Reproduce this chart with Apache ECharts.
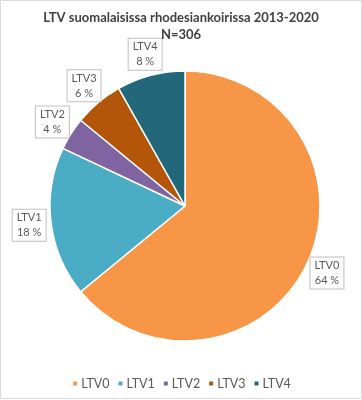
<!DOCTYPE html>
<html><head><meta charset="utf-8">
<script src="https://cdn.jsdelivr.net/npm/echarts@6/dist/echarts.min.js"></script>
<style>html,body{margin:0;padding:0;background:#fff}#c{width:362px;height:400px}</style>
</head><body><div id="c"></div>
<script>
const categories = ['LTV0', 'LTV1', 'LTV2', 'LTV3', 'LTV4'];
const counts = [196, 55, 12, 18, 25];
const colors = ['#F79646', '#4BACC6', '#8064A2', '#B35609', '#23687A'];
const titleText = 'LTV suomalaisissa rhodesiankoirissa 2013-2020';
const subText = 'N=306';

const data = categories.map((n, i) => ({ name: n, value: counts[i], itemStyle: { color: colors[i] } }));
const total = counts.reduce((a, b) => a + b, 0);
const FONT = 'Lato';
const chart = echarts.init(document.getElementById('c'), null, { renderer: 'canvas' });
chart.setOption({
  animation: false,
  title: {
    text: titleText + '\n' + subText,
    left: 'center', top: 4,
    textStyle: { fontFamily: FONT, fontWeight: 'bold', fontSize: 13, color: '#404040', lineHeight: 17 }
  },
  legend: {
    data: categories, bottom: 5, left: 'center',
    icon: 'rect', itemWidth: 6, itemHeight: 6, itemGap: 7,
    textStyle: { fontFamily: FONT, fontSize: 12.5, color: '#595959', padding: [0, 0, 0, -2] }
  },
  graphic: [{ type: 'rect', shape: { x: 0.5, y: 0.5, width: 361, height: 398 }, style: { fill: 'none', stroke: '#d9d9d9', lineWidth: 1 }, silent: true }],
  series: [
    {
      type: 'pie', center: [185, 206], radius: [0, 135], startAngle: 90, clockwise: true,
      data: data, label: { show: false }, labelLine: { show: false },
      itemStyle: { borderColor: '#fff', borderWidth: 1.5 }, silent: true
    },
    {
      type: 'pie', center: [185, 206], radius: [147, 161], startAngle: 90, clockwise: true,
      data: data.map(d => ({ name: d.name, value: d.value, itemStyle: { color: 'rgba(255,255,255,0)' } })),
      silent: true, legendHoverLink: false,
      label: {
        show: true, position: 'inside',
        formatter: p => p.name + '\n' + Math.round(p.value / total * 100) + ' %',
        fontFamily: FONT, fontSize: 11, color: '#595959', lineHeight: 15,
        backgroundColor: '#fff', borderColor: '#bfbfbf', borderWidth: 1,
        padding: [1, 4, 0, 4], rotate: 0, align: 'center'
      },
      labelLine: { show: false }
    }
  ]
});
</script></body></html>
